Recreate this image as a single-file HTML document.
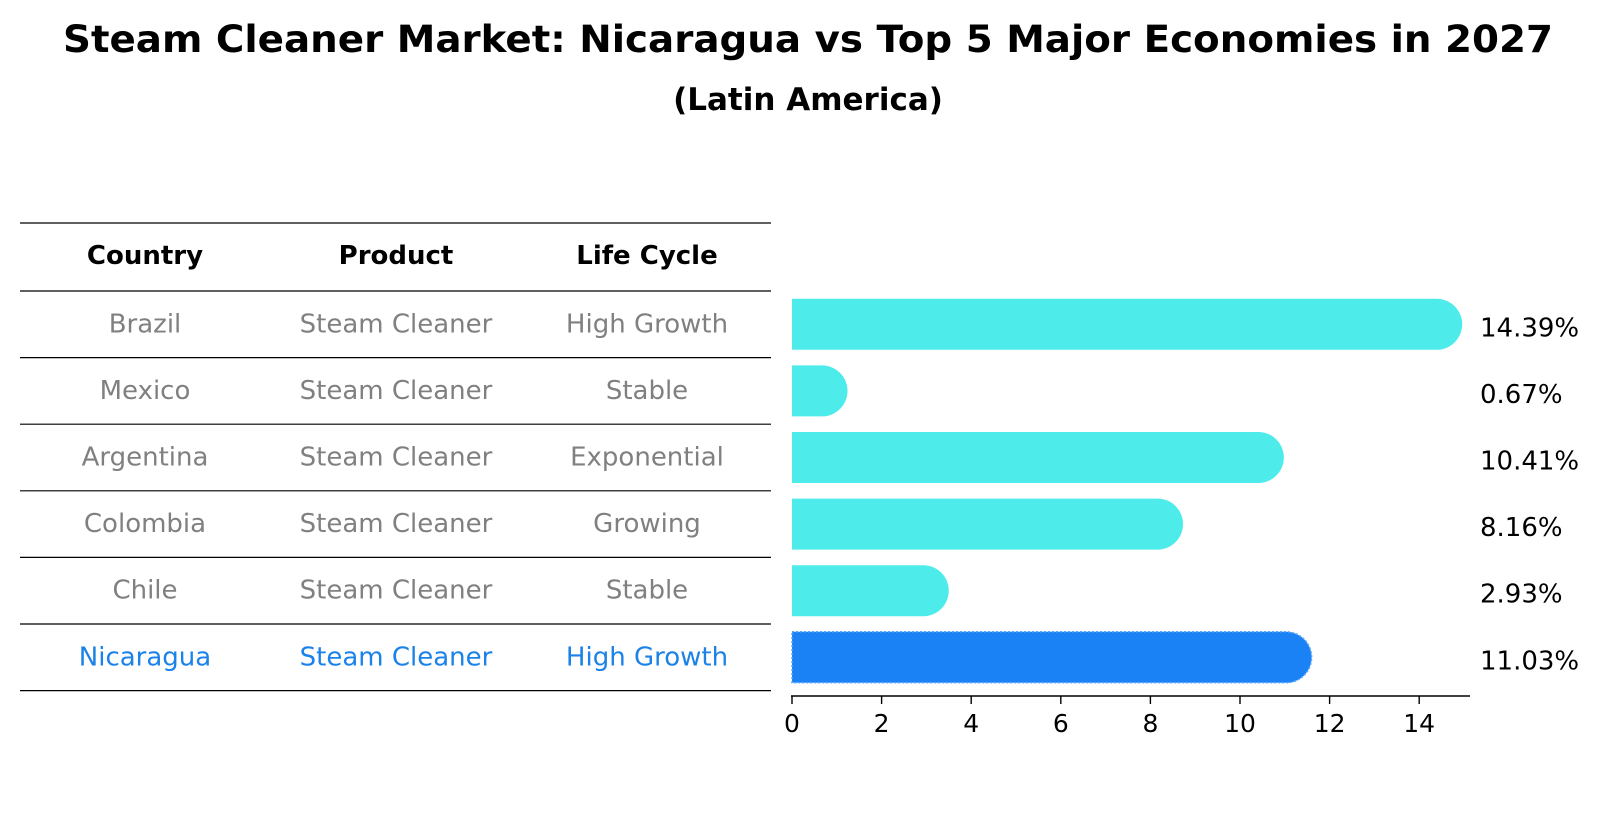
<!DOCTYPE html>
<html><head><meta charset="utf-8"><style>
body{margin:0;background:#fff;}
svg{display:block;font-family:"DejaVu Sans","Liberation Sans",sans-serif;}
</style></head><body>
<svg id="chart" width="1604" height="823" viewBox="0 0 1604 823">
<text x="808" y="52" text-anchor="middle" font-size="37" font-weight="bold" textLength="1490" lengthAdjust="spacingAndGlyphs">Steam Cleaner Market: Nicaragua vs Top 5 Major Economies in 2027</text>
<text x="808" y="110" text-anchor="middle" font-size="31" font-weight="bold">(Latin America)</text>
<g id="table"></g>
<g id="bars"></g>
</svg>
<script>
const countries=["Brazil","Mexico","Argentina","Colombia","Chile","Nicaragua"];
const products=["Steam Cleaner","Steam Cleaner","Steam Cleaner","Steam Cleaner","Steam Cleaner","Steam Cleaner"];
const lifeCycles=["High Growth","Stable","Exponential","Growing","Stable","High Growth"];
const values=[14.39,0.67,10.41,8.16,2.93,11.03];
const valueLabels=["14.39%","0.67%","10.41%","8.16%","2.93%","11.03%"];
const ticks=[0,2,4,6,8,10,12,14];
const headers=["Country","Product","Life Cycle"];

const NS="http://www.w3.org/2000/svg";
function mk(tag,attrs,parent){const e=document.createElementNS(NS,tag);for(const k in attrs)e.setAttribute(k,attrs[k]);parent.appendChild(e);return e;}
const x0=792,unit=44.8;
function xs(v){return x0+v*unit;}
const rowTop=291,rowH=66.6;
function yc(i){return rowTop+rowH*(i+0.5);}
const table=document.getElementById('table');
const colX=[145,396,647];
const lineYs=[223,291];
for(let i=0;i<countries.length;i++)lineYs.push(rowTop+rowH*(i+1));
lineYs.forEach((y,i)=>{const l=mk('line',{x1:20,x2:771,y1:y,y2:y,stroke:'#000','stroke-width':1.2},table);

});
headers.forEach((h,j)=>{const t=mk('text',{x:colX[j],y:264,'text-anchor':'middle','font-size':26,'font-weight':'bold'},table);t.textContent=h;

});
countries.forEach((c,i)=>{
  const col=i===countries.length-1?'#1a82e8':'#808080';
  [c,products[i],lifeCycles[i]].forEach((v,j)=>{
    const t=mk('text',{x:colX[j],y:yc(i)+8,'text-anchor':'middle','font-size':26,fill:col},table);t.textContent=v;
    
    
  });
});
const bars=document.getElementById('bars');
const bh=51,r=25.5;
values.forEach((v,i)=>{
  const last=i===values.length-1;
  const xe=xs(v),yt=yc(i)-bh/2;
  const p=mk('path',{d:`M${x0},${yt} H${xe} A${r},${r} 0 0 1 ${xe},${yt+bh} H${x0} Z`,fill:last?'#1a82f5':'#4deceb',stroke:last?'#5aa8ff':'none','stroke-dasharray':last?'2,2':'none','stroke-width':1.5},bars);
  
  
  const t=mk('text',{x:1480,y:yc(i)+12,'font-size':26},bars);t.textContent=valueLabels[i];
  
  
});
const ay=696;
const ax=mk('line',{x1:x0-1,x2:1470,y1:ay,y2:ay,stroke:'#000','stroke-width':1.6},bars);


ticks.forEach(tv=>{
  const l=mk('line',{x1:xs(tv),x2:xs(tv),y1:ay,y2:ay+8,stroke:'#000','stroke-width':1.4},bars);
  
  
  const t=mk('text',{x:xs(tv),y:ay+36,'text-anchor':'middle','font-size':25},bars);t.textContent=tv;
  
  
});
</script>
</body></html>
